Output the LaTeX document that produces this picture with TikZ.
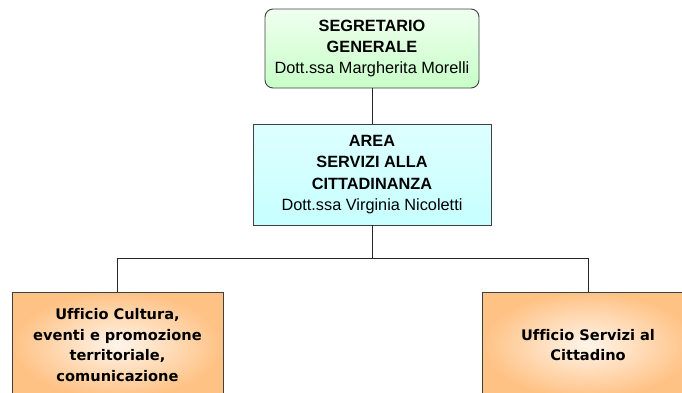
\documentclass[tikz,border=0pt]{standalone}
\usepackage{fontspec}
\setmainfont{Liberation Sans}
\newfontfamily\tahomalike[Ligatures=NoCommon]{DejaVu Sans}
\begin{document}
\begin{tikzpicture}[x=1pt,y=-1pt,
  every node/.style={inner sep=0pt,outer sep=0pt},
  boxline/.style={draw=black!75,line width=0.9pt},
  conn/.style={draw=black!85,line width=0.9pt},
  topbox/.style={boxline,rounded corners=8pt,shading=axis,top color=green!6!white,bottom color=green!22!white,
    minimum width=214pt,minimum height=79pt,align=center,font=\fontsize{16.3}{21.3}\selectfont},
  midbox/.style={boxline,shading=axis,top color=cyan!13,middle color=cyan!4,bottom color=cyan!22,
    minimum width=238pt,minimum height=101pt,align=center,font=\fontsize{16.3}{21.3}\selectfont},
  unitbox/.style={boxline,inner color=orange!8,outer color=orange!48,
    minimum width=211pt,minimum height=106pt,align=center,font=\tahomalike\bfseries\fontsize{14.6}{20.5}\selectfont}
]
\useasboundingbox (0,0) rectangle (682,392);
\clip (0,0) rectangle (682,392);
\node[topbox] (sg) at (372,48.5) {\textbf{SEGRETARIO}\\\textbf{GENERALE}\\Dott.ssa Margherita Morelli};
\node[midbox] (area) at (372,174.5) {\textbf{AREA}\\\textbf{SERVIZI ALLA}\\\textbf{CITTADINANZA}\\Dott.ssa Virginia Nicoletti};
\coordinate (bus) at (372,258);
\node[unitbox] (cult) at (117.5,345) {Ufficio Cultura,\\eventi e promozione\\territoriale,\\comunicazione};
\node[unitbox] (serv) at (588,345) {Ufficio Servizi al\\Cittadino};
\draw[conn] (sg.south) -- (area.north);
\draw[conn] (area.south) -- (bus);
\draw[conn] (bus) -| (cult.north);
\draw[conn] (bus) -| (serv.north);
\end{tikzpicture}
\end{document}
